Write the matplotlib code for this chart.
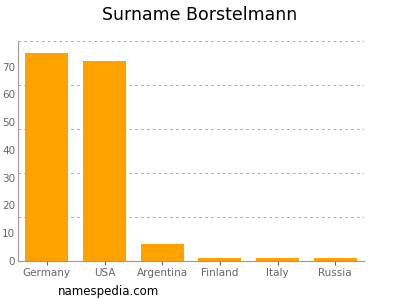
import numpy as np
import matplotlib.pyplot as plt

countries = ['Germany', 'USA', 'Argentina', 'Finland', 'Italy', 'Russia']
counts = [75, 72, 6, 1, 1, 1]
yticks = [0, 10, 20, 30, 40, 50, 60, 70]

fig = plt.figure(figsize=(4, 3), dpi=100)
ax = fig.add_axes([0.045, 0.13, 0.865, 0.733])

x = np.arange(len(countries))
ax.bar(x, counts, width=0.74, color='#ffa200', zorder=2)

ymax = max(counts) * 1.056
ax.set_ylim(0, ymax)
ax.set_xlim(-0.5, len(countries) - 0.5)
for k in range(1, 6):
    ax.axhline(ymax * k / 5, color='#b0b0b0', linestyle=(0, (3, 3)), linewidth=0.7, zorder=1)

ax.set_yticks(yticks)
ax.set_xticks(x)
ax.set_xticklabels(countries)
ax.tick_params(labelsize=7.5, colors='#666666', length=3, width=0.8, pad=2)
ax.tick_params(axis='y', length=0, pad=2)

for s in ['top', 'right']:
    ax.spines[s].set_visible(False)
for s in ['left', 'bottom']:
    ax.spines[s].set_color('#999999')
    ax.spines[s].set_linewidth(0.8)

fig.text(0.5, 0.95, 'Surname Borstelmann', ha='center', va='center', fontsize=12.5)
fig.text(0.145, 0.027, 'namespedia.com', ha='left', va='center', fontsize=8.5)

fig.savefig('out.png', dpi=100)
